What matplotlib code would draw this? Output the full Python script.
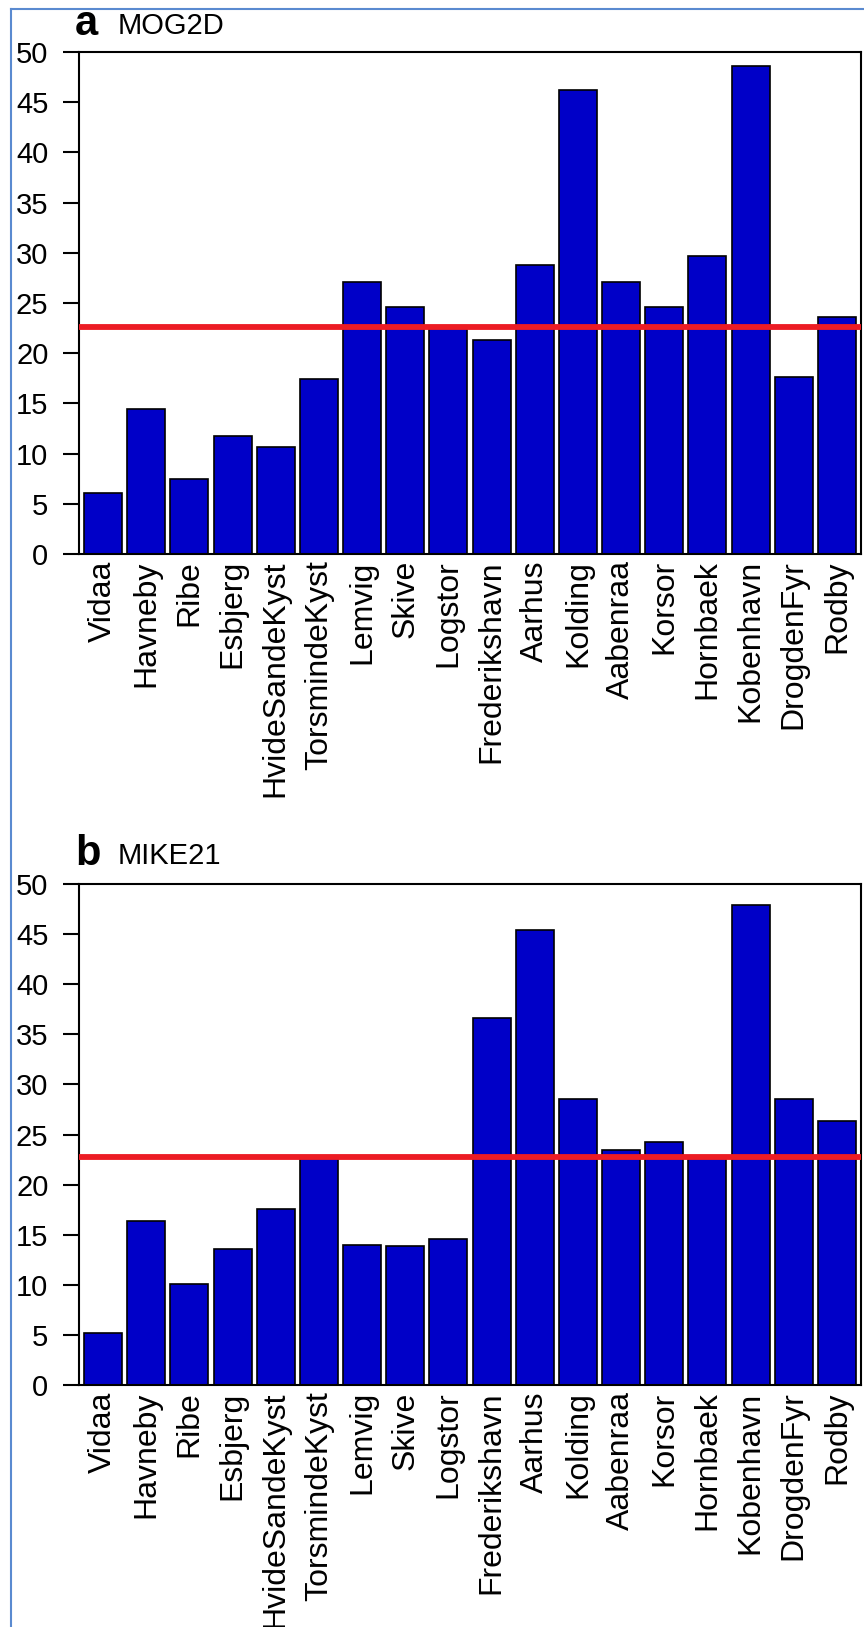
import matplotlib
matplotlib.use("Agg")
import matplotlib.pyplot as plt
from matplotlib.lines import Line2D

plt.rcParams['font.family'] = ['Liberation Sans', 'DejaVu Sans']

stations = ['Vidaa', 'Havneby', 'Ribe', 'Esbjerg', 'HvideSandeKyst', 'TorsmindeKyst',
            'Lemvig', 'Skive', 'Logstor', 'Frederikshavn', 'Aarhus', 'Kolding',
            'Aabenraa', 'Korsor', 'Hornbaek', 'Kobenhavn', 'DrogdenFyr', 'Rodby']

mog2d = [6.1, 14.4, 7.5, 11.8, 10.7, 17.4, 27.1, 24.6, 22.5, 21.3, 28.8, 46.2,
         27.1, 24.6, 29.7, 48.6, 17.6, 23.6]
mog2d_mean = 22.6

mike21 = [5.2, 16.4, 10.1, 13.6, 17.6, 22.8, 14.0, 13.9, 14.6, 36.6, 45.4, 28.5,
          23.5, 24.3, 22.8, 47.9, 28.5, 26.3]
mike21_mean = 22.75

panels = [('a', 'MOG2D', mog2d, mog2d_mean),
          ('b', 'MIKE21', mike21, mike21_mean)]

W, H = 864, 1627
fig = plt.figure(figsize=(W / 100, H / 100), dpi=100)

# axes boxes in pixels: (left, top, right, bottom)
boxes = [(79, 52, 861, 554), (79, 884, 861, 1385)]
title_y = [35, 865]

for (letter, name, vals, mean), (l, t, r, b), ty in zip(panels, boxes, title_y):
    ax = fig.add_axes([l / W, 1 - b / H, (r - l) / W, (b - t) / H])
    x = range(len(stations))
    ax.bar(x, vals, width=0.88, color='#0000c8', edgecolor='black', linewidth=1.2, zorder=2)
    ax.axhline(mean, color='#ec1c24', linewidth=4.2, zorder=3)
    ax.set_xlim(-0.556, 17.556)
    ax.set_ylim(0, 50)
    ax.set_yticks(range(0, 51, 5))
    ax.set_xticks(list(x))
    ax.set_xticklabels(stations, rotation=90, fontsize=23, va='top', ha='center')
    ax.tick_params(axis='y', direction='out', length=11.5, width=1.5, pad=10.5, labelsize=21)
    ax.tick_params(axis='x', length=0, pad=4.5)
    for s in ax.spines.values():
        s.set_linewidth(1.5)
    fig.text(75 / W, 1 - ty / H, letter, fontsize=30, fontweight='bold',
             ha='left', va='baseline')
    fig.text(118 / W, 1 - (ty - 1) / H, name, fontsize=21,
             ha='left', va='baseline')

# thin blue frame of the source image
fig.add_artist(Line2D([11 / W, 11 / W], [0, 1 - 9 / H], transform=fig.transFigure,
                      color='#5a8ad0', linewidth=1.5))
fig.add_artist(Line2D([11 / W, 1], [1 - 9 / H, 1 - 9 / H], transform=fig.transFigure,
                      color='#5a8ad0', linewidth=1.5))

fig.savefig('out.png', dpi=100)
